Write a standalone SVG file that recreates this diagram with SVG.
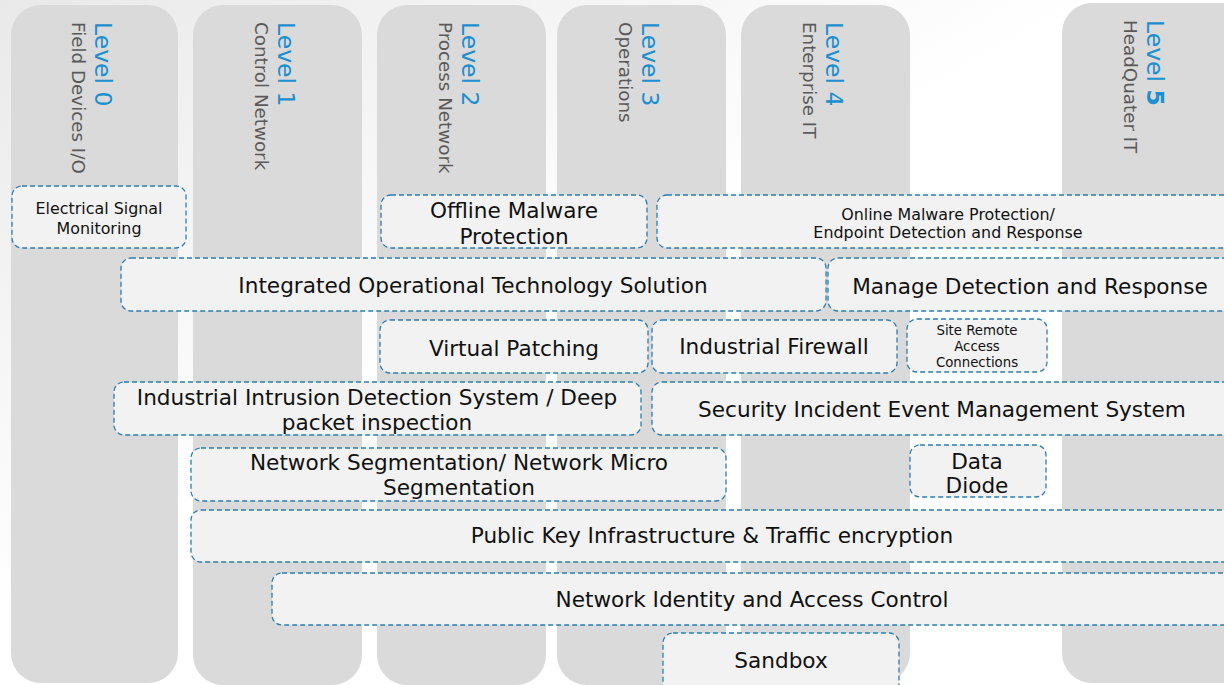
<svg xmlns="http://www.w3.org/2000/svg" width="1224" height="685" viewBox="0 0 1224 685">
<defs>
<linearGradient id="bg" x1="0" y1="0" x2="1" y2="1">
<stop offset="0" stop-color="#e9e9e9"/>
<stop offset="0.45" stop-color="#ffffff"/>
<stop offset="1" stop-color="#ffffff"/>
</linearGradient>
<style>
.col{fill:#dadada;}
.lvl{font-family:"DejaVu Sans",Verdana,sans-serif;font-size:23.5px;fill:#1b8fcf;}
.sub{font-family:"DejaVu Sans",Verdana,sans-serif;font-size:18.3px;fill:#595959;}
.box{fill:#f2f2f2;stroke:#2b7db5;stroke-width:1.3;stroke-dasharray:5 3;}
.t{font-family:"DejaVu Sans",Verdana,sans-serif;fill:#111;text-anchor:middle;}
.l{font-size:21.6px;}
.s{font-size:15.9px;}
.xs{font-size:13.3px;}
</style>
</defs>
<rect width="1224" height="685" fill="url(#bg)"/>
<g id="columns">
<g id="level0"><rect class="col" x="11" y="5" width="167" height="678" rx="30"/>
<text class="lvl" transform="translate(95,22) rotate(90)">Level 0</text>
<text class="sub" transform="translate(72,22) rotate(90)">Field Devices I/O</text></g>
<g id="level1"><rect class="col" x="193" y="5" width="169" height="680" rx="30"/>
<text class="lvl" transform="translate(278,22) rotate(90)">Level 1</text>
<text class="sub" transform="translate(255,22) rotate(90)">Control Network</text></g>
<g id="level2"><rect class="col" x="377" y="5" width="169" height="680" rx="30"/>
<text class="lvl" transform="translate(462,22) rotate(90)">Level 2</text>
<text class="sub" transform="translate(439,22) rotate(90)">Process Network</text></g>
<g id="level3"><rect class="col" x="557" y="5" width="169" height="680" rx="30"/>
<text class="lvl" transform="translate(642,22) rotate(90)">Level 3</text>
<text class="sub" transform="translate(619,22) rotate(90)">Operations</text></g>
<g id="level4"><rect class="col" x="741" y="5" width="169" height="678" rx="30"/>
<text class="lvl" transform="translate(826,22) rotate(90)">Level 4</text>
<text class="sub" transform="translate(803,22) rotate(90)">Enterprise IT</text></g>
<g id="level5"><rect class="col" x="1062" y="3" width="200" height="680" rx="30"/>
<text class="lvl" transform="translate(1147,20) rotate(90)">Level <tspan font-weight="bold">5</tspan></text>
<text class="sub" transform="translate(1124,20) rotate(90)">HeadQuater IT</text></g>
</g>
<g id="connectors"/>
<g id="esm"><rect class="box" x="12" y="186" width="174" height="62" rx="10"/>
<text class="t s" x="99" y="214">Electrical Signal</text><text class="t s" x="99" y="234">Monitoring</text></g>
<g id="offline-malware"><rect class="box" x="381" y="195" width="266" height="53" rx="10"/>
<text class="t l" x="514" y="218">Offline Malware</text><text class="t l" x="514" y="244">Protection</text></g>
<g id="online-malware"><rect class="box" x="657" y="195" width="590" height="53" rx="10"/>
<text class="t s" x="948" y="220">Online Malware Protection/</text><text class="t s" x="948" y="238">Endpoint Detection and Response</text></g>
<g id="iots"><rect class="box" x="121" y="258" width="705" height="53" rx="10"/>
<text class="t l" x="473" y="293">Integrated Operational Technology Solution</text></g>
<g id="mdr"><rect class="box" x="828" y="258" width="420" height="53" rx="10"/>
<text class="t l" x="1030" y="294">Manage Detection and Response</text></g>
<g id="virtual-patching"><rect class="box" x="380" y="320" width="268" height="53" rx="10"/>
<text class="t l" x="514" y="356">Virtual Patching</text></g>
<g id="industrial-firewall"><rect class="box" x="652" y="320" width="245" height="53" rx="10"/>
<text class="t l" x="774" y="354">Industrial Firewall</text></g>
<g id="site-remote"><rect class="box" x="907" y="319" width="140" height="53" rx="10"/>
<text class="t xs" x="977" y="335">Site Remote</text><text class="t xs" x="977" y="351">Access</text><text class="t xs" x="977" y="367">Connections</text></g>
<g id="ids"><rect class="box" x="114" y="382" width="527" height="53" rx="10"/>
<text class="t l" x="377" y="405">Industrial Intrusion Detection System / Deep</text><text class="t l" x="377" y="430">packet inspection</text></g>
<g id="siem"><rect class="box" x="652" y="382" width="596" height="53" rx="10"/>
<text class="t l" x="942" y="417">Security Incident Event Management System</text></g>
<g id="segmentation"><rect class="box" x="191" y="448" width="535" height="53" rx="10"/>
<text class="t l" x="459" y="470">Network Segmentation/ Network Micro</text><text class="t l" x="459" y="495">Segmentation</text></g>
<g id="data-diode"><rect class="box" x="910" y="445" width="136" height="52" rx="10"/>
<text class="t l" x="977" y="469">Data</text><text class="t l" x="977" y="493">Diode</text></g>
<g id="pki"><rect class="box" x="191" y="510" width="1057" height="52" rx="10"/>
<text class="t l" x="712" y="543">Public Key Infrastructure &amp; Traffic encryption</text></g>
<g id="nac"><rect class="box" x="272" y="573" width="976" height="52" rx="10"/>
<text class="t l" x="752" y="607">Network Identity and Access Control</text></g>
<g id="sandbox"><rect class="box" x="663" y="633" width="236" height="60" rx="10"/>
<text class="t l" x="781" y="668">Sandbox</text></g>
</svg>
